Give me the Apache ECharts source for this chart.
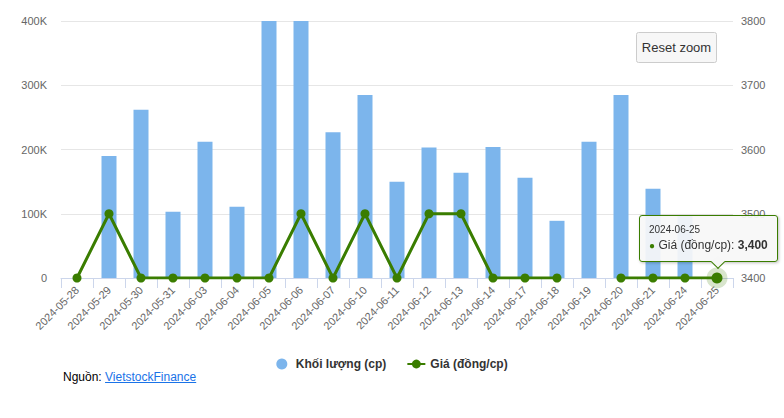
<!DOCTYPE html>
<html>
<head>
<meta charset="utf-8">
<script src="https://cdn.jsdelivr.net/npm/echarts@6/dist/echarts.min.js"></script>
<style>
  html, body { margin: 0; padding: 0; background: #ffffff; }
  #wrap { position: relative; width: 784px; height: 418px; }
  #chart { position: absolute; left: 0; top: 0; width: 784px; height: 418px; }
  #source { position: absolute; left: 63px; top: 370px; font: 12px 'Liberation Sans', Arial, sans-serif; color: #000; line-height: 14px; }
  #source a { color: #1a73e8; text-decoration: underline; }
</style>
</head>
<body>
<div id="wrap">
  <div id="chart"></div>
  <div id="source">Nguồn: <a href="#">VietstockFinance</a></div>
</div>
<script>
var categories = ['2024-05-28','2024-05-29','2024-05-30','2024-05-31','2024-06-03','2024-06-04','2024-06-05','2024-06-06','2024-06-07','2024-06-10','2024-06-11','2024-06-12','2024-06-13','2024-06-14','2024-06-17','2024-06-18','2024-06-19','2024-06-20','2024-06-21','2024-06-24','2024-06-25'];
var volumes = [0, 190000, 262000, 103000, 212000, 111000, 400000, 400000, 227000, 285000, 150000, 203000, 164000, 204000, 156000, 89000, 212000, 285000, 139000, 97000, 0];
var prices = [3400, 3500, 3400, 3400, 3400, 3400, 3400, 3500, 3400, 3500, 3400, 3500, 3500, 3400, 3400, 3400, null, 3400, 3400, 3400, 3400];
var volumeTicks = [0, 100000, 200000, 300000, 400000];
var priceTicks = [3400, 3500, 3600, 3700, 3800];
var volumeName = 'Khối lượng (cp)';
var priceName = 'Giá (đồng/cp)';
var hoverIndex = 20;

var green = '#3a7d00';
var font = "'Liberation Sans', Arial, sans-serif";

var chart = echarts.init(document.getElementById('chart'), null, { renderer: 'svg' });

var lineData = prices.map(function (v, i) {
  return i === hoverIndex ? { value: v, symbolSize: 11 } : v;
});
var haloData = prices.map(function (v, i) { return i === hoverIndex ? v : null; });

var option = {
  animation: false,
  textStyle: { fontFamily: font },
  grid: { left: 61, right: 51, top: 21, bottom: 140 },
  legend: {
    top: 353,
    left: 'center',
    itemGap: 20,
    itemWidth: 18,
    itemHeight: 11,
    textStyle: { fontSize: 12, fontWeight: 'bold', color: '#333333', fontFamily: font },
    data: [{ name: volumeName, icon: 'circle' }, { name: priceName }]
  },
  tooltip: {
    trigger: 'item',
    alwaysShowContent: true,
    triggerOn: 'none',
    backgroundColor: 'rgba(247,247,247,0.92)',
    borderColor: green,
    borderWidth: 1,
    padding: [7, 9, 7, 9],
    textStyle: { color: '#333333', fontSize: 12, fontFamily: font },
    extraCssText: 'box-shadow: 1px 1px 3px rgba(0,0,0,0.25); border-radius: 3px; overflow: visible; border-color: ' + green + ' !important;',
    position: function (point, params, dom, rect, size) {
      return [point[0] - 78, point[1] - size.contentSize[1] - 16];
    },
    formatter: function (p) {
      var v = (p.value && p.value.value !== undefined) ? p.value.value : p.value;
      return '<div style="font-size:10px;line-height:14px;color:#333">' + p.name + '</div>' +
        '<div style="font-size:12px;line-height:16px;white-space:nowrap"><span style="color:' + green + ';font-size:10px">\u25CF</span> ' +
        p.seriesName + ': <b>' + Number(v).toLocaleString('en-US') + '</b></div>' +
        '<div style="position:absolute;left:73px;bottom:-6px;width:9px;height:9px;background:#f7f7f7;border-right:1px solid ' + green + ';border-bottom:1px solid ' + green + ';transform:rotate(45deg);"></div>';
    }
  },
  xAxis: {
    type: 'category',
    data: categories,
    boundaryGap: true,
    axisLine: { lineStyle: { color: '#ccd6eb' } },
    axisTick: { show: true, length: 10, lineStyle: { color: '#ccd6eb' } },
    axisLabel: { rotate: 45, interval: 0, color: '#666666', fontSize: 11, margin: 10, fontFamily: font }
  },
  yAxis: [
    {
      type: 'value',
      min: volumeTicks[0],
      max: volumeTicks[volumeTicks.length - 1],
      interval: volumeTicks[1] - volumeTicks[0],
      axisLine: { show: false },
      axisTick: { show: false },
      splitLine: { lineStyle: { color: '#e6e6e6' } },
      axisLabel: {
        color: '#666666', fontSize: 11, margin: 14, fontFamily: font,
        formatter: function (v) { return v === 0 ? '0' : (v / 1000) + 'K'; }
      }
    },
    {
      type: 'value',
      min: priceTicks[0],
      max: priceTicks[priceTicks.length - 1],
      interval: priceTicks[1] - priceTicks[0],
      axisLine: { show: false },
      axisTick: { show: false },
      splitLine: { show: false },
      axisLabel: {
        color: '#666666', fontSize: 11, margin: 8, fontFamily: font,
        formatter: function (v) { return String(v); }
      }
    }
  ],
  graphic: [
    {
      type: 'group',
      right: 67,
      top: 32,
      children: [
        { type: 'rect', shape: { x: 0, y: 0, width: 80, height: 30, r: 2 }, style: { fill: '#f7f7f7', stroke: '#cccccc', lineWidth: 1 } },
        { type: 'text', x: 40, y: 15, style: { text: 'Reset zoom', fontSize: 13, fontFamily: font, fill: '#333333', align: 'center', verticalAlign: 'middle' } }
      ]
    }
  ],
  series: [
    {
      name: volumeName,
      type: 'bar',
      yAxisIndex: 0,
      barWidth: 15,
      itemStyle: { color: '#7cb5ec' },
      data: volumes,
      tooltip: { show: false },
      z: 2
    },
    {
      name: 'halo',
      type: 'scatter',
      yAxisIndex: 1,
      symbolSize: 21,
      itemStyle: { color: 'rgba(58,125,0,0.25)' },
      data: haloData,
      silent: true,
      tooltip: { show: false },
      z: 3
    },
    {
      name: priceName,
      type: 'line',
      yAxisIndex: 1,
      symbol: 'circle',
      symbolSize: 9,
      showAllSymbol: true,
      connectNulls: false,
      lineStyle: { color: green, width: 3 },
      itemStyle: { color: green },
      data: lineData,
      z: 4
    }
  ]
};

chart.setOption(option);
chart.dispatchAction({ type: 'showTip', seriesIndex: 2, dataIndex: hoverIndex });
</script>
</body>
</html>
